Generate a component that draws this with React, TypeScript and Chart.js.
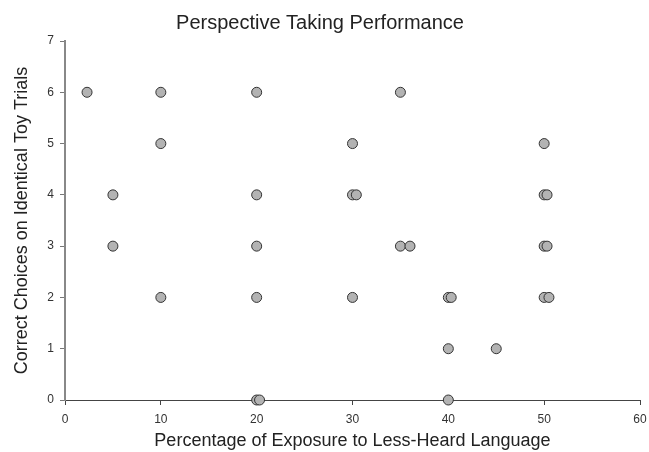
import { useEffect, useRef } from "react";
import { Chart, registerables } from "chart.js";

Chart.register(...registerables);

// Percentage of exposure to less-heard language (x) per child
const exposurePct = [
  2.3, 10, 20, 35,
  10, 30, 50,
  5, 20, 30, 30.4, 50, 50.3,
  5, 20, 35, 36, 50, 50.3,
  10, 20, 30, 40, 40.3, 50, 50.5,
  40, 45,
  20, 20.3, 40,
];
// Correct choices on identical toy trials (y)
const correctChoices = [
  6, 6, 6, 6,
  5, 5, 5,
  4, 4, 4, 4, 4, 4,
  3, 3, 3, 3, 3, 3,
  2, 2, 2, 2, 2, 2, 2,
  1, 1,
  0, 0, 0,
];
const xTickValues = [0, 10, 20, 30, 40, 50, 60];
const yTickValues = [0, 1, 2, 3, 4, 5, 6, 7];

const chartTitle = "Perspective Taking Performance";
const xTitle = "Percentage of Exposure to Less-Heard Language";
const yTitle = "Correct Choices on Identical Toy Trials";

const FONT = "'Liberation Sans', Arial, Helvetica, sans-serif";

export default function App() {
  const canvasRef = useRef<HTMLCanvasElement | null>(null);

  useEffect(() => {
    const canvas = canvasRef.current;
    if (!canvas) return;
    const points = exposurePct.map((x, i) => ({ x, y: correctChoices[i] }));
    const chart = new Chart(canvas, {
      type: "scatter",
      data: {
        datasets: [
          {
            data: points,
            showLine: false,
            clip: false as any,
            pointRadius: 5,
            pointHoverRadius: 5,
            pointBackgroundColor: "#b3b3b3",
            pointBorderColor: "#333333",
            pointBorderWidth: 1,
          },
        ],
      },
      options: {
        responsive: false,
        animation: false,
        events: [],
        layout: { padding: { left: 0, right: 9, top: 0, bottom: 0 } },
        plugins: {
          legend: { display: false },
          tooltip: { enabled: false },
          title: {
            display: true,
            text: chartTitle,
            color: "#222222",
            font: { family: FONT, size: 20, weight: "normal" },
            padding: { top: 11, bottom: 6 },
          },
        },
        scales: {
          x: {
            type: "linear",
            min: xTickValues[0],
            max: xTickValues[xTickValues.length - 1],
            afterBuildTicks: (s: any) => {
              s.ticks = xTickValues.map((v) => ({ value: v }));
            },
            afterFit: (s: any) => {
              s.height = 52;
              s.paddingRight = 0;
              s.paddingLeft = 0;
            },
            ticks: {
              color: "#333333",
              font: { family: FONT, size: 12 },
              padding: 7,
              maxRotation: 0,
            },
            grid: {
              display: true,
              drawOnChartArea: false,
              drawTicks: true,
              tickLength: 5,
              color: "#444444",
            },
            border: { display: true, color: "#444444", width: 1 },
            title: {
              display: true,
              text: xTitle,
              color: "#222222",
              font: { family: FONT, size: 18 },
              padding: { top: 0, bottom: 0 },
            },
          },
          y: {
            type: "linear",
            min: yTickValues[0],
            max: yTickValues[yTickValues.length - 1],
            afterBuildTicks: (s: any) => {
              s.ticks = yTickValues.map((v) => ({ value: v }));
            },
            afterFit: (s: any) => {
              s.width = 65;
            },
            ticks: {
              color: "#333333",
              font: { family: FONT, size: 12 },
              padding: 6,
            },
            grid: {
              display: true,
              drawOnChartArea: false,
              drawTicks: true,
              tickLength: 5,
              color: "#777777",
            },
            border: { display: true, color: "#888888", width: 2 },
            title: {
              display: true,
              text: yTitle,
              color: "#222222",
              font: { family: FONT, size: 18 },
              padding: { top: 11, bottom: 0 },
            },
          },
        },
      },
    });
    return () => chart.destroy();
  }, []);

  return (
    <div
      style={{
        position: "fixed",
        left: 0,
        top: 0,
        width: 649,
        height: 452,
        background: "#ffffff",
      }}
    >
      <canvas ref={canvasRef} width={649} height={452} />
    </div>
  );
}
